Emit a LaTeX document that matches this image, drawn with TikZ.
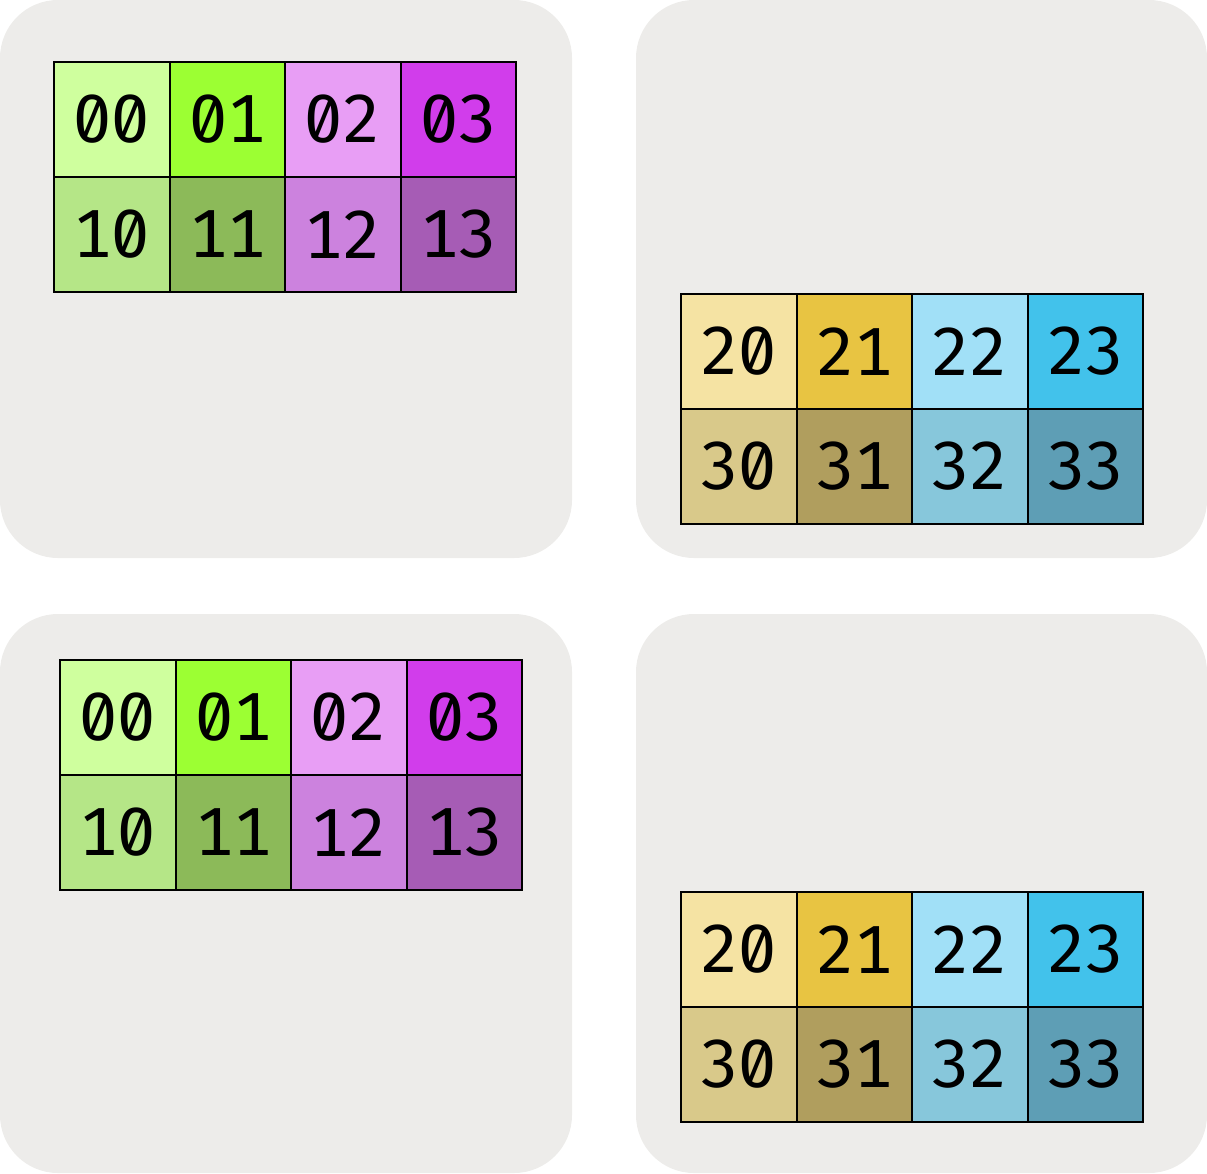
\documentclass[tikz,border=0pt]{standalone}
\usepackage{fontspec}
\newfontfamily\cellfont[Numbers={Monospaced,SlashedZero}]{Fira Sans}
\definecolor{panelgray}{HTML}{EDECEA}
\definecolor{c00}{HTML}{CFFF9E}
\definecolor{c01}{HTML}{9CFF33}
\definecolor{c02}{HTML}{E89EF5}
\definecolor{c03}{HTML}{D13DEB}
\definecolor{c10}{HTML}{B5E687}
\definecolor{c11}{HTML}{8CBA59}
\definecolor{c12}{HTML}{CC82DE}
\definecolor{c13}{HTML}{A65CB5}
\definecolor{c20}{HTML}{F5E3A3}
\definecolor{c21}{HTML}{E8C442}
\definecolor{c22}{HTML}{A1E0F7}
\definecolor{c23}{HTML}{42C2EB}
\definecolor{c30}{HTML}{D9C98A}
\definecolor{c31}{HTML}{B09E5E}
\definecolor{c32}{HTML}{87C7DB}
\definecolor{c33}{HTML}{5E9EB5}
\begin{document}
\begin{tikzpicture}[x=1pt,y=-1pt,
  panel/.style={fill=panelgray, rounded corners=58pt},
  cell/.style={draw=black, line width=2pt, minimum width=115.5pt, minimum height=115pt,
    inner sep=0pt, font=\cellfont\fontsize{68}{68}\selectfont}]
\useasboundingbox (0,0) rectangle (1207,1173);
% panels
\fill[panel] (0,0) rectangle (572,558);
\fill[panel] (636,0) rectangle (1207,558);
\fill[panel] (0,614) rectangle (572,1173);
\fill[panel] (636,614) rectangle (1207,1173);
% grid A (top-left)
\foreach \c/\r/\t in {0/0/00,1/0/01,2/0/02,3/0/03,0/1/10,1/1/11,2/1/12,3/1/13}
  \node[cell, fill=c\t] (A\t) at (54+57.75+115.5*\c, 62+57.5+115*\r) {\t};
% grid B (top-right)
\foreach \c/\r/\t in {0/0/20,1/0/21,2/0/22,3/0/23,0/1/30,1/1/31,2/1/32,3/1/33}
  \node[cell, fill=c\t] (B\t) at (681+57.75+115.5*\c, 294+57.5+115*\r) {\t};
% grid C (bottom-left)
\foreach \c/\r/\t in {0/0/00,1/0/01,2/0/02,3/0/03,0/1/10,1/1/11,2/1/12,3/1/13}
  \node[cell, fill=c\t] (C\t) at (60+57.75+115.5*\c, 660+57.5+115*\r) {\t};
% grid D (bottom-right)
\foreach \c/\r/\t in {0/0/20,1/0/21,2/0/22,3/0/23,0/1/30,1/1/31,2/1/32,3/1/33}
  \node[cell, fill=c\t] (D\t) at (681+57.75+115.5*\c, 892+57.5+115*\r) {\t};
\end{tikzpicture}
\end{document}
